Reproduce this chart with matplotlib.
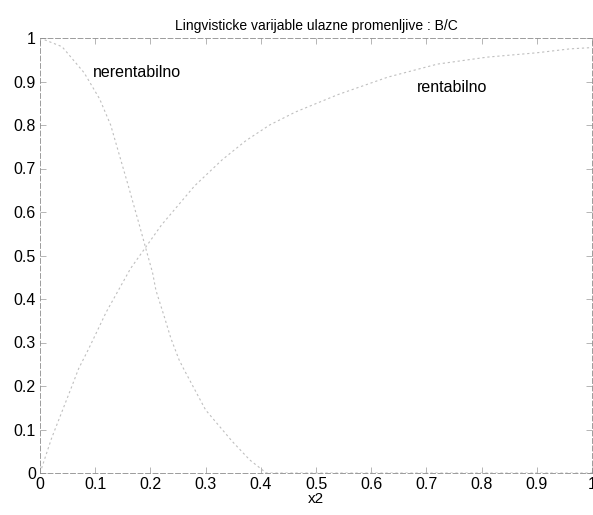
import matplotlib
matplotlib.use('Agg')
import matplotlib.pyplot as plt

# membership functions
x_ner = [0.0, 0.04, 0.08, 0.108, 0.128, 0.16, 0.18, 0.193, 0.204, 0.21, 0.225,
         0.237, 0.252, 0.26, 0.30, 0.348, 0.38, 0.41, 1.0]
y_ner = [1.0, 0.98, 0.92, 0.86, 0.80, 0.66, 0.57, 0.51, 0.46, 0.42, 0.36,
         0.31, 0.26, 0.24, 0.145, 0.073, 0.03, 0.0, 0.0]

x_ren = [0.0, 0.021, 0.057, 0.07, 0.088, 0.12, 0.164, 0.22, 0.28, 0.33, 0.373,
         0.416, 0.463, 0.54, 0.63, 0.72, 0.81, 0.9, 0.96, 1.0]
y_ren = [0.0, 0.08, 0.197, 0.24, 0.285, 0.37, 0.47, 0.57, 0.66, 0.72, 0.764,
         0.80, 0.83, 0.87, 0.91, 0.94, 0.956, 0.966, 0.975, 0.978]

labels = ['nerentabilno', 'rentabilno']
label_pos = [(0.096, 0.92), (0.683, 0.887)]

xticks = [0, 0.1, 0.2, 0.3, 0.4, 0.5, 0.6, 0.7, 0.8, 0.9, 1]
yticks = [0, 0.1, 0.2, 0.3, 0.4, 0.5, 0.6, 0.7, 0.8, 0.9, 1]
ticklabels = ['0', '0.1', '0.2', '0.3', '0.4', '0.5', '0.6', '0.7', '0.8', '0.9', '1']

plt.rcParams['font.family'] = ['Liberation Sans', 'DejaVu Sans']
plt.rcParams['font.size'] = 11

fig = plt.figure(figsize=(5.93, 5.15), dpi=100)
ax = fig.add_axes([40 / 593, 1 - 473 / 515, 552 / 593, 435 / 515])

ax.plot(x_ner, y_ner, color='0.75', lw=0.8, ls=(0, (2, 2.5)))
ax.plot(x_ren, y_ren, color='0.75', lw=0.8, ls=(0, (2, 2.5)))

for txt, (tx, ty) in zip(labels, label_pos):
    ax.text(tx, ty, txt, fontsize=11.5, va='center', ha='left')

ax.set_xlim(0, 1)
ax.set_ylim(0, 1)
ax.set_xticks(xticks)
ax.set_yticks(yticks)
ax.set_xticklabels(ticklabels)
ax.set_yticklabels(ticklabels)
ax.tick_params(direction='in', length=4, width=0.5, color='0.6',
               top=True, right=True, labelsize=11.5, pad=3)
for s in ax.spines.values():
    s.set_color('0.55')
    s.set_linewidth(0.6)
    s.set_linestyle((0, (6, 3)))

ax.set_xlabel('x2', fontsize=11, labelpad=0)
ax.set_title('Lingvisticke varijable ulazne promenljive : B/C', fontsize=10, pad=6)

fig.savefig('out.png', dpi=100)
